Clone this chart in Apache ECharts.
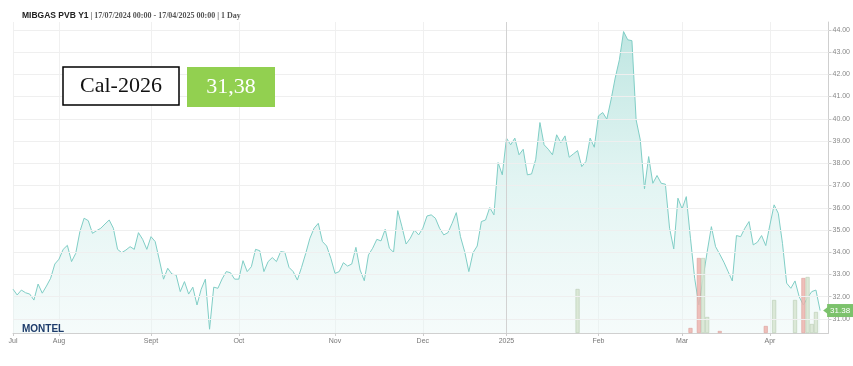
<!DOCTYPE html>
<html><head><meta charset="utf-8">
<script src="https://cdn.jsdelivr.net/npm/echarts@6/dist/echarts.min.js"></script>
<style>html,body{margin:0;padding:0;background:#fff}#c{width:853px;height:366px}</style>
</head><body><div id="c"></div>
<script>
// ---- data ----
const startDate = '2024-07-17';
const endDate = '2025-04-17';
const holidays = ['2024-12-25', '2024-12-26', '2025-01-01'];
const monthNames = {'07':'Jul','08':'Aug','09':'Sept','10':'Oct','11':'Nov','12':'Dec','01':'2025','02':'Feb','03':'Mar','04':'Apr'};
const prices = [
  32.34,32.08,32.30,32.18,32.12,31.85,32.57,32.16,32.48,32.83,
  33.47,33.69,34.13,34.31,33.58,33.95,34.93,35.53,35.42,34.85,
  34.97,35.08,35.27,35.45,35.08,34.13,33.98,34.10,34.25,34.13,
  34.88,34.58,34.13,34.70,34.48,33.65,32.79,33.28,33.02,32.98,
  32.23,32.68,32.12,32.43,31.63,32.34,32.79,30.54,32.43,32.38,
  32.80,33.13,33.08,32.79,32.79,33.62,33.13,33.35,34.13,34.07,
  33.13,33.58,33.76,33.58,34.03,34.00,33.32,33.13,32.75,33.32,
  33.95,34.63,35.08,35.30,34.48,34.28,33.73,33.05,33.13,33.53,
  33.38,33.47,34.22,33.20,32.72,33.88,34.18,34.58,34.51,35.03,
  34.18,34.00,35.87,35.15,34.37,34.63,35.00,34.78,35.08,35.63,
  35.68,35.53,35.08,34.78,34.88,35.30,35.78,34.70,34.03,33.13,
  33.98,34.28,35.38,35.45,36.01,35.68,38.03,37.48,39.13,38.83,
  39.13,38.38,38.63,37.48,37.52,38.18,39.83,38.83,38.63,38.38,
  39.28,38.93,39.23,38.27,38.42,38.57,37.85,38.08,39.13,38.72,
  40.13,40.28,39.98,40.85,41.83,42.65,43.92,43.55,43.51,39.95,
  39.05,36.85,38.30,37.10,37.45,37.10,37.06,35.08,34.15,36.43,
  35.95,36.50,34.63,32.83,31.63,32.83,34.03,35.15,34.25,33.91,
  33.55,33.13,32.71,34.75,34.70,35.08,35.38,34.33,34.45,34.75,
  34.30,35.23,36.13,35.75,34.40,32.61,32.38,32.71,32.00,31.63,
  31.96,32.23,32.30,31.38
];
const yTicks = [31,32,33,34,35,36,37,38,39,40,41,42,43,44];
const volIndex  = [135,162,164,165,166,169,180,182,187,189,190,191,192];
const volValues = [44, 5, 75, 75, 16, 2, 7, 33, 33, 55, 56, 9, 21];
const volUp     = [1,  0, 0,  1,  1,  0, 0, 1,  1,  0,  1,  1, 1];
const yearMarkDate = '2025-01-02';
const boxLabel = 'Cal-2026';
const boxValue = '31,38';

// ---- build trading-day categories ----
const dates = [];
for (let d = new Date(startDate + 'T00:00:00Z'); d <= new Date(endDate + 'T00:00:00Z'); d.setUTCDate(d.getUTCDate() + 1)) {
  const wd = d.getUTCDay();
  const s = d.toISOString().slice(0, 10);
  if (wd === 0 || wd === 6 || holidays.includes(s)) continue;
  dates.push(s);
}
const monthStart = new Set();
dates.forEach((s, i) => { if (i === 0 || s.slice(5, 7) !== dates[i - 1].slice(5, 7)) monthStart.add(i); });
const categories = dates.concat(['', '']);
const isMonth = (i) => monthStart.has(i);

const volData = dates.map(() => null);
volIndex.forEach((idx, k) => {
  volData[idx] = {
    value: volValues[k],
    itemStyle: volUp[k]
      ? { color: 'rgba(214,228,208,0.85)', borderColor: 'rgba(185,205,180,1)', borderWidth: 0.6 }
      : { color: 'rgba(236,180,174,0.85)', borderColor: 'rgba(220,160,155,1)', borderWidth: 0.6 }
  };
});
const last = prices.length - 1;

const chart = echarts.init(document.getElementById('c'), null, { renderer: 'canvas' });
chart.setOption({
  animation: false,
  backgroundColor: '#fff',
  title: {
    text: '{b|MIBGAS PVB Y1}{n| | 17/07/2024 00:00 - 17/04/2025 00:00 | 1 Day}',
    left: 17, top: 6,
    textStyle: {
      rich: {
        b: { fontFamily: 'Liberation Sans', fontWeight: 'bold', fontSize: 8.5, color: '#222' },
        n: { fontFamily: 'Liberation Serif', fontSize: 8, color: '#555' }
      }
    }
  },
  grid: { left: 13, right: 24, top: 22, bottom: 33 },
  xAxis: {
    type: 'category',
    data: categories,
    boundaryGap: false,
    axisLine: { lineStyle: { color: '#d0d0d0' } },
    axisTick: { interval: isMonth, length: 3, lineStyle: { color: '#ccc' } },
    axisLabel: {
      interval: isMonth,
      formatter: (v) => monthNames[v.slice(5, 7)] || '',
      fontSize: 7, color: '#777', margin: 5, fontFamily: 'Liberation Sans'
    },
    splitLine: { show: true, interval: isMonth, lineStyle: { color: '#f0f0f0' } }
  },
  yAxis: [{
    type: 'value',
    position: 'right',
    min: 30.37, max: 44.35,
    splitLine: { show: false },
    axisLine: { show: true, lineStyle: { color: '#cfcfcf' } },
    axisTick: { show: true, customValues: yTicks, length: 3, lineStyle: { color: '#ccc' } },
    axisLabel: { customValues: yTicks, formatter: (v) => v.toFixed(2), fontSize: 7, color: '#888', margin: 4, fontFamily: 'Liberation Sans' }
  }, {
    type: 'value', min: 0, max: 311, show: false
  }],
  series: [{
    // horizontal gridlines, drawn beneath the area
    type: 'line',
    data: [],
    z: 0,
    silent: true,
    markLine: {
      silent: true,
      symbol: 'none',
      label: { show: false },
      lineStyle: { color: '#efefef', type: 'solid', width: 1 },
      data: yTicks.map(v => ({ yAxis: v }))
    }
  }, {
    type: 'line',
    data: prices,
    symbol: 'none',
    z: 2,
    lineStyle: { color: '#80cec6', width: 1 },
    areaStyle: {
      color: new echarts.graphic.LinearGradient(0, 0, 0, 1, [
        { offset: 0, color: 'rgba(150,214,207,0.88)' },
        { offset: 0.5, color: 'rgba(200,235,231,0.75)' },
        { offset: 1, color: 'rgba(232,246,245,0.6)' }
      ])
    },
    endLabel: {
      show: true,
      formatter: () => prices[last].toFixed(2),
      backgroundColor: '#7cc26c',
      color: '#fff',
      fontSize: 8,
      fontFamily: 'Liberation Sans',
      padding: [3, 3, 2, 3],
      distance: 7
    },
    markPoint: {
      silent: true,
      data: [{ coord: [dates[last], prices[last]], symbol: 'triangle', symbolRotate: 90, symbolSize: [9, 6], symbolOffset: [6, 0], itemStyle: { color: '#7cc26c' }, label: { show: false } }]
    },
    markLine: {
      silent: true,
      symbol: 'none',
      label: { show: false },
      data: [{ xAxis: yearMarkDate, lineStyle: { color: '#d2d2d2', type: 'solid', width: 1 } }]
    }
  }, {
    type: 'bar',
    yAxisIndex: 1,
    data: volData,
    barWidth: 4,
    z: 3
  }],
  graphic: [
    { type: 'rect', z: 100, shape: { x: 63, y: 67, width: 116, height: 38 }, style: { fill: '#fff', stroke: '#000', lineWidth: 1.5 } },
    { type: 'text', z: 101, x: 121, y: 86, style: { text: boxLabel, font: '22px "Liberation Serif"', fill: '#111', align: 'center', verticalAlign: 'middle' } },
    { type: 'rect', z: 100, shape: { x: 187, y: 67, width: 88, height: 40 }, style: { fill: '#92d050' } },
    { type: 'text', z: 101, x: 231, y: 87, style: { text: boxValue, font: '22px "Liberation Serif"', fill: '#fff', align: 'center', verticalAlign: 'middle' } },
    { type: 'text', z: 101, x: 22, y: 329, style: { text: 'MONTEL', font: 'bold 10px "Liberation Sans"', fill: '#1d3c6b', verticalAlign: 'middle' } }
  ]
});
</script></body></html>
